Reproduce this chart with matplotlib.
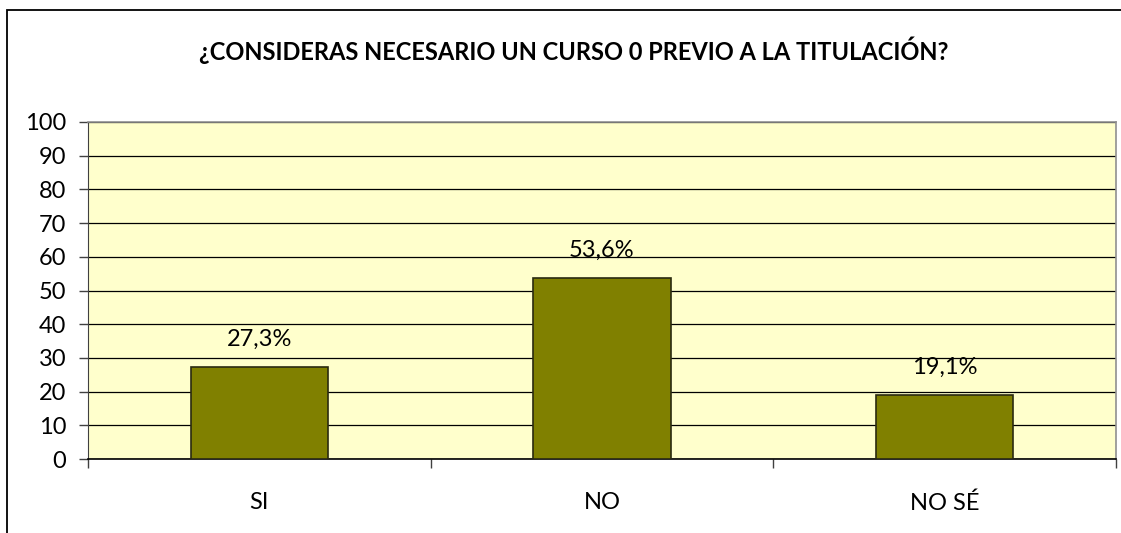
import matplotlib.pyplot as plt
from matplotlib.patches import Rectangle

# Survey answers and their percentages
categories = ["SI", "NO", "NO SÉ"]
percentages = [27.3, 53.6, 19.1]
y_ticks = [0, 10, 20, 30, 40, 50, 60, 70, 80, 90, 100]

plt.rcParams["font.family"] = ["Lato", "DejaVu Sans"]

fig = plt.figure(figsize=(11.21, 5.33), dpi=100)
ax = fig.add_axes([88 / 1121, 1 - 459 / 533, (1116 - 88) / 1121, (459 - 122) / 533])

# outer chart frame
fig.patches.append(Rectangle((7 / 1121, -0.05), 1.2, 0.05 + 1 - 10 / 533,
                             transform=fig.transFigure, fill=False,
                             edgecolor="black", linewidth=1.3))

ax.set_facecolor("#FFFFCC")
x = list(range(len(categories)))
ax.bar(x, percentages, width=0.4, color="#808000", edgecolor="#2a2a10",
       linewidth=1.2, zorder=3)

for xi, v in zip(x, percentages):
    ax.annotate(f"{v:.1f}%".replace(".", ","), (xi, v), xytext=(0, 20),
                textcoords="offset points", ha="center", va="center",
                fontsize=17)

ax.set_xlim(-0.5, 2.5)
ax.set_ylim(0, 100)
ax.set_yticks(y_ticks)
ax.yaxis.grid(True, color="black", linewidth=0.9, zorder=1)
ax.set_axisbelow(True)

ax.set_xticks(x)
ax.set_xticklabels(categories)
ax.set_xticks([-0.5, 0.5, 1.5, 2.5], minor=True)
ax.tick_params(axis="x", which="major", length=0, pad=24, labelsize=17)
ax.tick_params(axis="x", which="minor", length=6.5, width=1, direction="out",
               color="#404040")
ax.tick_params(axis="y", length=6.5, width=1, direction="out", pad=9,
               labelsize=17, color="#404040")

for side in ["top", "right"]:
    ax.spines[side].set_color("#909090")
    ax.spines[side].set_linewidth(1.2)
ax.spines["left"].set_color("#404040")
ax.spines["bottom"].set_color("black")
ax.spines["bottom"].set_linewidth(1.2)

fig.text(574 / 1121, 1 - 50 / 533, "¿CONSIDERAS NECESARIO UN CURSO 0 PREVIO A LA TITULACIÓN?",
         ha="center", va="center", fontsize=17, fontweight="bold")

fig.savefig("out.png", dpi=100)
